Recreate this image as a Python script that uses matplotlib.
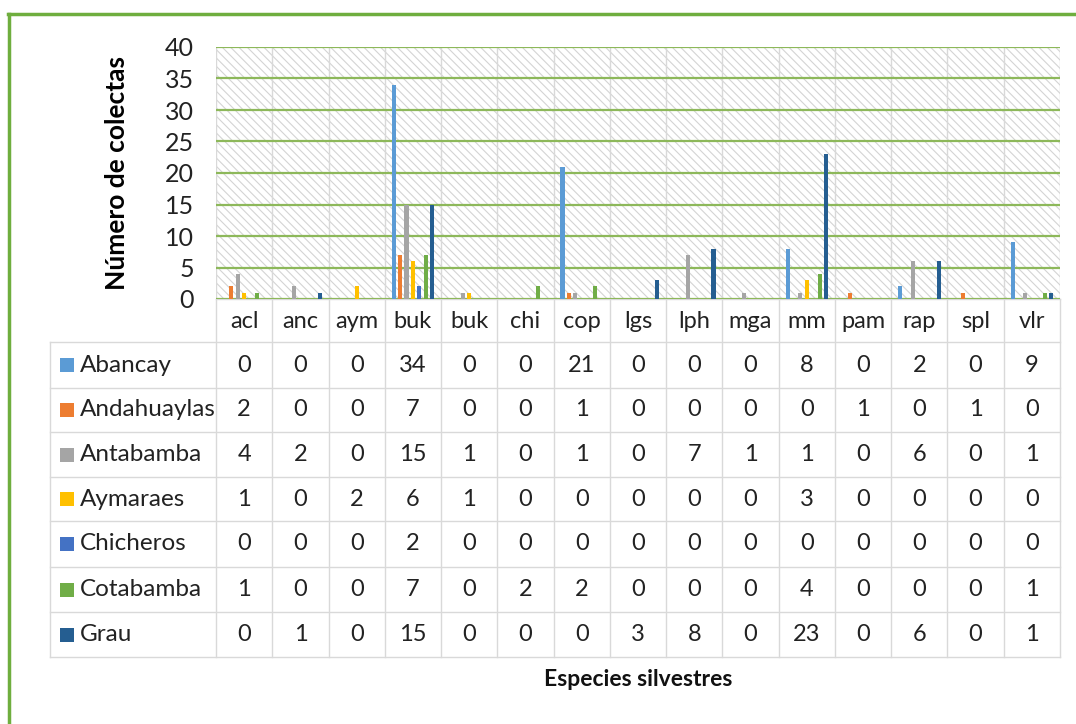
import numpy as np
import matplotlib.pyplot as plt
from matplotlib.patches import Rectangle

plt.rcParams['font.family'] = ['Lato', 'DejaVu Sans']
plt.rcParams['hatch.linewidth'] = 0.8
plt.rcParams['hatch.color'] = '#d4d4d4'

especies = ["acl", "anc", "aym", "buk", "buk", "chi", "cop", "lgs",
            "lph", "mga", "mm", "pam", "rap", "spl", "vlr"]
provincias = ["Abancay", "Andahuaylas", "Antabamba", "Aymaraes",
              "Chicheros", "Cotabamba", "Grau"]

abancay     = [0, 0, 0, 34, 0, 0, 21, 0, 0, 0, 8, 0, 2, 0, 9]
andahuaylas = [2, 0, 0, 7, 0, 0, 1, 0, 0, 0, 0, 1, 0, 1, 0]
antabamba   = [4, 2, 0, 15, 1, 0, 1, 0, 7, 1, 1, 0, 6, 0, 1]
aymaraes    = [1, 0, 2, 6, 1, 0, 0, 0, 0, 0, 3, 0, 0, 0, 0]
chicheros   = [0, 0, 0, 2, 0, 0, 0, 0, 0, 0, 0, 0, 0, 0, 0]
cotabamba   = [1, 0, 0, 7, 0, 2, 2, 0, 0, 0, 4, 0, 0, 0, 1]
grau        = [0, 1, 0, 15, 0, 0, 0, 3, 8, 0, 23, 0, 6, 0, 1]

series = [abancay, andahuaylas, antabamba, aymaraes, chicheros, cotabamba, grau]
colores = ["#5B9BD5", "#ED7D31", "#A5A5A5", "#FFC000", "#4472C4", "#70AD47", "#255E91"]

W, H = 1076, 724
fig = plt.figure(figsize=(W / 100, H / 100), dpi=100)

# plot area in pixels
x0, x1, ytop, ybot = 216, 1060, 47, 299
ax = fig.add_axes([x0 / W, 1 - ybot / H, (x1 - x0) / W, (ybot - ytop) / H])
n = len(especies)
ax.set_xlim(0, n)
ax.set_ylim(0, 40)

# hatched background
ax.add_patch(Rectangle((0, 0), 1, 1, transform=ax.transAxes, facecolor='white',
                       hatch='\\\\\\\\', edgecolor='#d4d4d4', linewidth=0, zorder=0))

ax.set_yticks(np.arange(0, 45, 5))
ax.yaxis.grid(True, color='#8DB85A', linewidth=1.6, zorder=1)
ax.set_axisbelow(False)
for i in range(n + 1):
    ax.axvline(i, color='#d9d9d9', linewidth=1, zorder=1)

bw = 0.072
step = 0.114
idx = np.arange(n) + 0.5
for k, (vals, c) in enumerate(zip(series, colores)):
    off = (k - 3) * step
    ax.bar(idx + off, vals, width=bw, color=c, zorder=3)

ax.set_xticks([])
ax.tick_params(axis='y', length=0, labelsize=18, pad=16, colors='#222222')
for s in ax.spines.values():
    s.set_visible(False)
ax.set_ylabel("Número de colectas", fontsize=19, fontweight='bold', labelpad=26)

# overlay for table and frame
ov = fig.add_axes([0, 0, 1, 1], zorder=-1)
ov.set_xlim(0, W)
ov.set_ylim(H, 0)
ov.axis('off')

cw = (x1 - x0) / n
tab_left = 50
row_edges = [342, 388, 432, 477, 521, 567, 612, 657]
grid_c = '#d9d9d9'
fs = 17

# header row
for j, name in enumerate(especies):
    ov.text(x0 + (j + 0.5) * cw, 321, name, ha='center', va='center',
            fontsize=fs, color='#222222')
ov.plot([x0, x1], [ybot, ybot], color=grid_c, lw=1)
for j in range(n + 1):
    ov.plot([x0 + j * cw] * 2, [ybot, row_edges[-1]], color=grid_c, lw=1)
ov.plot([tab_left, tab_left], [row_edges[0], row_edges[-1]], color=grid_c, lw=1)
for y in row_edges:
    ov.plot([tab_left, x1], [y, y], color=grid_c, lw=1)

for r, (prov, vals, c) in enumerate(zip(provincias, series, colores)):
    yc = (row_edges[r] + row_edges[r + 1]) / 2
    ov.add_patch(Rectangle((60, yc - 7), 14, 14, facecolor=c, edgecolor='none'))
    ov.text(80, yc, prov, ha='left', va='center', fontsize=17.5, color='#222222')
    for j, v in enumerate(vals):
        ov.text(x0 + (j + 0.5) * cw, yc, str(v), ha='center', va='center',
                fontsize=fs, color='#222222')

ov.text((x0 + x1) / 2, 680, "Especies silvestres", ha='center', va='center',
        fontsize=16.5, fontweight='bold', color='#111111')

# outer green frame (top and left edges)
ov.plot([8, W], [14, 14], color='#6FAE3E', lw=2.5)
ov.plot([9, 9], [14, H], color='#6FAE3E', lw=2.5)

fig.savefig("out.png", dpi=100)
